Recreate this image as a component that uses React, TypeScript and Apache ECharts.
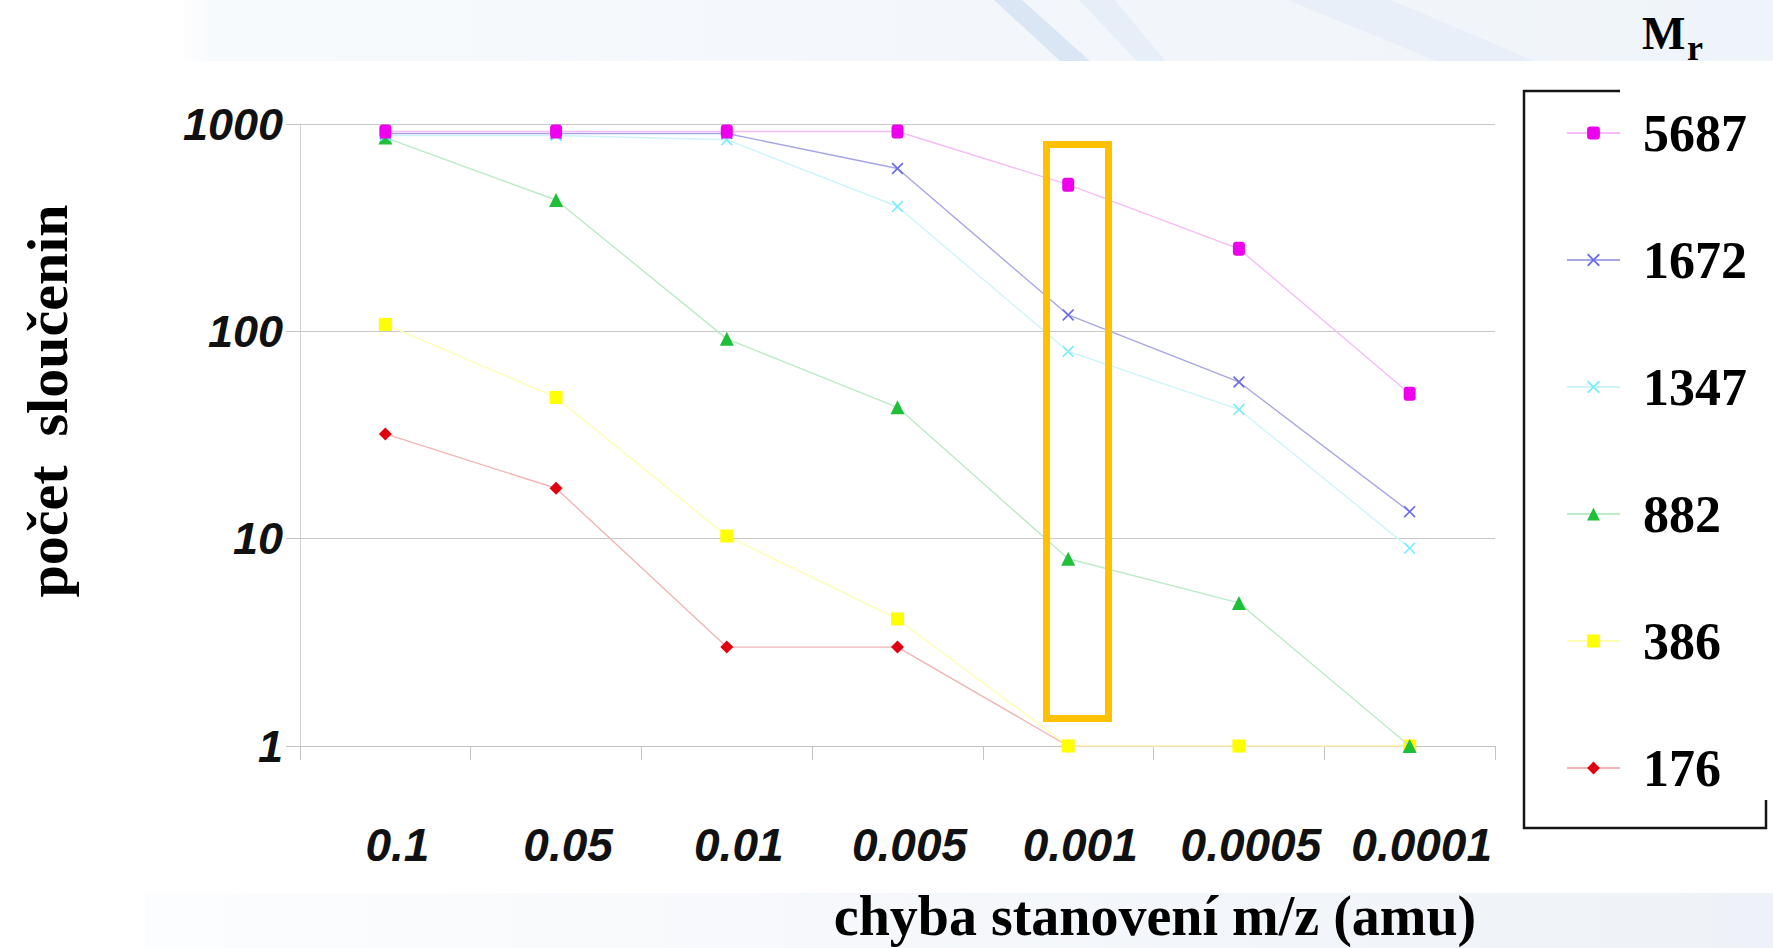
import React, { useEffect, useRef } from "react";
import * as echarts from "echarts";

const categories = ["0.1", "0.05", "0.01", "0.005", "0.001", "0.0005", "0.0001"];
const yTicks = [1, 10, 100, 1000];

const s5687 = [920, 920, 920, 920, 510, 250, 50];
const s1672 = [900, 900, 900, 610, 120, 57, 13.5];
const s1347 = [880, 880, 840, 400, 80, 42, 9];
const s882 = [860, 430, 92, 43, 8, 4.9, 1];
const s386 = [108, 48, 10.3, 4.1, 1, 1, 1];
const s176 = [32, 17.5, 3, 3, 1, 1, 1];

const legendOrder = ["5687", "1672", "1347", "882", "386", "176"];

const X_SYMBOL = "path://M0,1L1,0L5,4L9,0L10,1L6,5L10,9L9,10L5,6L1,10L0,9L4,5Z";

const seriesDefs = [
  { name: "176", data: s176, symbol: "diamond", size: 13, color: "#e0000f", line: "#f2b4b4" },
  { name: "386", data: s386, symbol: "rect", size: 13, color: "#ffff00", line: "#ffffb0" },
  { name: "882", data: s882, symbol: "triangle", size: 14, color: "#1fbf3a", line: "#bcebc8" },
  { name: "1347", data: s1347, symbol: X_SYMBOL, size: 12, color: "#7eeefa", line: "#cdf5fa" },
  { name: "1672", data: s1672, symbol: X_SYMBOL, size: 12, color: "#6c6cec", line: "#a6a6e6" },
  { name: "5687", data: s5687, symbol: "roundRect", size: [12, 14], color: "#ee00ee", line: "#f6bcf6" },
];

export default function App() {
  const ref = useRef<HTMLDivElement>(null);
  useEffect(() => {
    if (!ref.current) return;
    const chart = echarts.init(ref.current, null, { renderer: "svg" });
    const option: any = {
      animation: false,
      backgroundColor: "#ffffff",
      grid: { left: 300, right: 278, top: 124, bottom: 202, containLabel: false },
      xAxis: {
        type: "category",
        data: categories,
        boundaryGap: true,
        axisLine: { show: true, lineStyle: { color: "#c4c4c4", width: 1 } },
        axisTick: { show: true, length: 14, alignWithLabel: false, interval: 0, lineStyle: { color: "#c4c4c4" } },
        axisLabel: {
          interval: 0,
          margin: 76,
          color: "#111",
          fontFamily: "Liberation Sans",
          fontStyle: "italic",
          fontWeight: "bold",
          fontSize: 46,
          padding: [0, 0, 0, 24],
        },
        splitLine: { show: false },
      },
      yAxis: {
        type: "log",
        logBase: 10,
        min: 1,
        max: 1000,
        axisLine: { show: true, lineStyle: { color: "#d0d0d0", width: 1 } },
        axisTick: { show: true, length: 14, lineStyle: { color: "#c4c4c4" } },
        axisLabel: {
          margin: 17,
          color: "#111",
          fontFamily: "Liberation Sans",
          fontStyle: "italic",
          fontWeight: "bold",
          fontSize: 45,
          padding: [0, 0, 28, 0],
          formatter: (v: number) => (yTicks.indexOf(Math.round(v)) >= 0 ? String(Math.round(v)) : ""),
        },
        splitLine: { show: true, lineStyle: { color: "#c8c8c8", width: 1.2 } },
        minorSplitLine: { show: false },
      },
      legend: {
        orient: "vertical",
        left: 1566,
        top: 105,
        padding: 0,
        itemGap: 71,
        itemWidth: 53,
        itemHeight: 16,
        selectedMode: false,
        data: legendOrder,
        textStyle: {
          fontFamily: "Liberation Serif",
          fontWeight: "bold",
          fontSize: 52,
          lineHeight: 56,
          color: "#000",
          padding: [0, 0, 0, 18],
        },
      },
      series: seriesDefs.map((s, i) => ({
        name: s.name,
        type: "line",
        data: s.data,
        symbol: s.symbol,
        symbolSize: s.size,
        showSymbol: true,
        z: 2 + i,
        itemStyle: { color: s.color },
        lineStyle: { color: s.line, width: 1.4 },
        emphasis: { disabled: true },
      })),
      graphic: [
        {
          type: "rect",
          z: -10,
          silent: true,
          shape: { x: 0, y: 0, width: 1773, height: 61 },
          style: {
            fill: new echarts.graphic.LinearGradient(0, 0, 1, 0, [
              { offset: 0, color: "#ffffff" },
              { offset: 0.1, color: "#ffffff" },
              { offset: 0.12, color: "#f7fafd" },
              { offset: 1, color: "#eff4fa" },
            ]),
          },
        },
        {
          type: "polygon",
          z: -9,
          silent: true,
          shape: { points: [[994, 0], [1022, 0], [1090, 61], [1060, 61]] },
          style: { fill: "#dbe6f5" },
        },
        {
          type: "polygon",
          z: -9,
          silent: true,
          shape: { points: [[1079, 0], [1115, 0], [1165, 61], [1137, 61]] },
          style: { fill: "#e6eef8" },
        },
        {
          type: "polygon",
          z: -9,
          silent: true,
          shape: { points: [[1288, 0], [1391, 0], [1534, 61], [1436, 61]] },
          style: { fill: "#e8eff9" },
        },
        {
          type: "rect",
          z: -10,
          silent: true,
          shape: { x: 145, y: 893, width: 1628, height: 55 },
          style: {
            fill: new echarts.graphic.LinearGradient(0, 0, 1, 0, [
              { offset: 0, color: "#fcfdfe" },
              { offset: 1, color: "#eef2f8" },
            ]),
          },
        },
        {
          type: "polyline",
          z: 10,
          silent: true,
          shape: { points: [[1620, 91], [1524, 91], [1524, 828], [1766, 828], [1766, 800]] },
          style: { stroke: "#151515", lineWidth: 2.5, fill: null },
        },
        {
          type: "rect",
          z: 100,
          silent: true,
          shape: { x: 1046.5, y: 144.5, width: 62, height: 574 },
          style: { fill: null, stroke: "#ffc000", lineWidth: 7 },
        },
        {
          type: "text",
          z: 10,
          silent: true,
          x: 47,
          y: 401,
          rotation: Math.PI / 2,
          style: {
            text: "počet  sloučenin",
            fontFamily: "Liberation Serif",
            fontWeight: "bold",
            fontSize: 58,
            fill: "#000",
            align: "center",
            verticalAlign: "middle",
          },
        },
        {
          type: "text",
          z: 10,
          silent: true,
          x: 1155,
          y: 916,
          style: {
            text: "chyba stanovení m/z (amu)",
            fontFamily: "Liberation Serif",
            fontWeight: "bold",
            fontSize: 56,
            fill: "#000",
            align: "center",
            verticalAlign: "middle",
          },
        },
        {
          type: "text",
          z: 10,
          silent: true,
          x: 1642,
          y: 33,
          style: {
            text: "M",
            fontFamily: "Liberation Serif",
            fontWeight: "bold",
            fontSize: 46,
            fill: "#000",
            align: "left",
            verticalAlign: "middle",
          },
        },
        {
          type: "text",
          z: 10,
          silent: true,
          x: 1687,
          y: 48,
          style: {
            text: "r",
            fontFamily: "Liberation Serif",
            fontWeight: "bold",
            fontSize: 36,
            fill: "#000",
            align: "left",
            verticalAlign: "middle",
          },
        },
      ],
    };
    chart.setOption(option);
    return () => chart.dispose();
  }, []);
  return (
    <div
      ref={ref}
      style={{ position: "absolute", left: 0, top: 0, width: 1773, height: 948 }}
    />
  );
}
